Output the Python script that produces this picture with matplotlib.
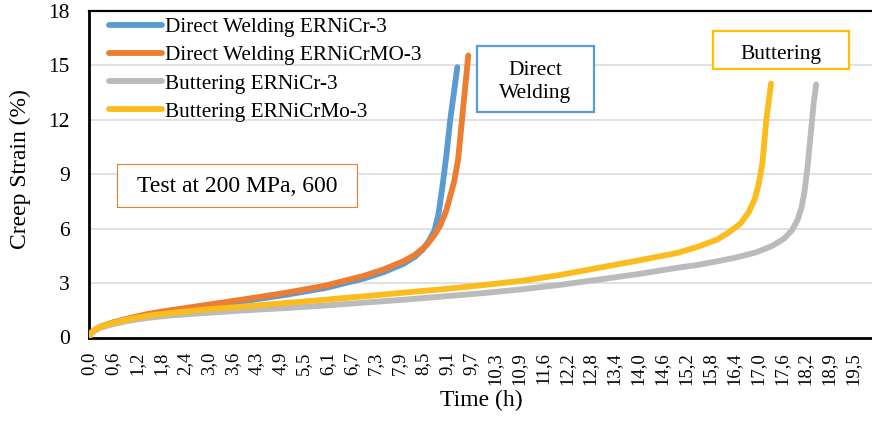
import numpy as np
import matplotlib
matplotlib.use("Agg")
import matplotlib.pyplot as plt
from matplotlib.patches import Rectangle

# ---- data -------------------------------------------------------------
dw_cr_t = [0, 0.05, 0.15, 0.3, 0.6, 1.0, 1.5, 2.0, 3.0, 4.0, 5.0, 6.0, 7.0,
           7.5, 8.0, 8.3, 8.5, 8.65, 8.8, 8.9, 9.0, 9.1, 9.2, 9.3, 9.38]
dw_cr_y = [0, 0.25, 0.42, 0.6, 0.82, 1.03, 1.25, 1.42, 1.72, 2.02, 2.35, 2.72,
           3.25, 3.6, 4.05, 4.45, 4.85, 5.3, 5.9, 6.8, 8.3, 10.0, 12.0, 13.6, 14.9]

dw_mo_t = [0, 0.05, 0.15, 0.3, 0.6, 1.0, 1.5, 2.0, 3.0, 4.0, 5.0, 6.0, 7.0,
           7.5, 8.0, 8.3, 8.6, 8.8, 8.95, 9.1, 9.2, 9.3, 9.4, 9.5, 9.58, 9.66]
dw_mo_y = [0, 0.25, 0.42, 0.6, 0.82, 1.05, 1.3, 1.48, 1.8, 2.12, 2.46, 2.85,
           3.4, 3.75, 4.2, 4.55, 5.1, 5.65, 6.2, 7.0, 7.8, 8.6, 9.8, 12.0, 13.8, 15.55]

bu_cr_t = [0, 0.05, 0.15, 0.3, 0.6, 1.0, 1.5, 2.0, 3.0, 4.0, 5.0, 6.0, 7.0, 8.0,
           9.0, 10.0, 11.0, 12.0, 13.0, 14.0, 15.0, 15.5, 16.0, 16.5, 17.0, 17.4,
           17.7, 17.9, 18.05, 18.15, 18.22, 18.3, 18.38, 18.46, 18.52]
bu_cr_y = [0, 0.22, 0.38, 0.55, 0.73, 0.92, 1.08, 1.2, 1.36, 1.5, 1.62, 1.76,
           1.92, 2.08, 2.26, 2.44, 2.65, 2.9, 3.2, 3.5, 3.85, 4.0, 4.2, 4.42, 4.7,
           5.05, 5.45, 5.9, 6.5, 7.2, 8.0, 9.4, 11.2, 13.0, 13.95]

bu_mo_t = [0, 0.05, 0.15, 0.3, 0.6, 1.0, 1.5, 2.0, 3.0, 4.0, 5.0, 6.0, 7.0, 8.0,
           9.0, 10.0, 11.0, 12.0, 12.5, 13.0, 14.0, 15.0, 15.5, 16.0, 16.3, 16.6,
           16.8, 16.95, 17.05, 17.15, 17.25, 17.37]
bu_mo_y = [0, 0.25, 0.42, 0.6, 0.8, 1.0, 1.2, 1.33, 1.55, 1.72, 1.9, 2.08, 2.27,
           2.47, 2.66, 2.88, 3.12, 3.45, 3.65, 3.85, 4.25, 4.67, 5.0, 5.4, 5.8,
           6.3, 6.9, 7.6, 8.4, 9.6, 12.0, 14.0]

series_names = ["Direct Welding ERNiCr-3", "Direct Welding ERNiCrMO-3",
                "Buttering ERNiCr-3", "Buttering ERNiCrMo-3"]
series_colors = ["#5B9BD5", "#ED7D31", "#BBBBBB", "#FBBD1E"]

x_tick_labels = ["0,0", "0,6", "1,2", "1,8", "2,4", "3,0", "3,6", "4,3", "4,9",
                 "5,5", "6,1", "6,7", "7,3", "7,9", "8,5", "9,1", "9,7", "10,3",
                 "10,9", "11,6", "12,2", "12,8", "13,4", "14,0", "14,6", "15,2",
                 "15,8", "16,4", "17,0", "17,6", "18,2", "18,9", "19,5"]
x_tick_step = 0.6082
y_ticks = [0, 3, 6, 9, 12, 15, 18]

# ---- figure -----------------------------------------------------------
W, H = 872, 424
plt.rcParams["font.family"] = ["Liberation Serif", "DejaVu Serif"]
fig = plt.figure(figsize=(W / 100, H / 100), dpi=100)


def fx(px):
    return px / W


def fy(py):
    return 1 - py / H


left, right, top, bottom = 89, 873.5, 11, 337.5
ax = fig.add_axes([fx(left), fy(bottom), fx(right - left), (bottom - top) / H])

data = [(dw_cr_t, dw_cr_y), (dw_mo_t, dw_mo_y), (bu_cr_t, bu_cr_y), (bu_mo_t, bu_mo_y)]
for (t, y), name, col in zip(data, series_names, series_colors):
    ax.plot(t, y, color=col, lw=4.2, solid_capstyle="round",
            solid_joinstyle="round", label=name, zorder=3)

ax.set_xlim(0, 19.98)
ax.set_ylim(0, 18)
ax.set_yticks(y_ticks)
ax.set_yticklabels([str(v) for v in y_ticks], fontsize=15.5)
ax.set_xticks(np.arange(len(x_tick_labels)) * x_tick_step)
ax.set_xticklabels(x_tick_labels, rotation=90, fontsize=13.5)
ax.tick_params(axis="both", length=0)
ax.tick_params(axis="x", pad=10.5)
ax.tick_params(axis="y", pad=14)

ax.grid(axis="y", color="#D9D9D9", lw=1.1, zorder=0)
ax.set_axisbelow(True)
for side in ["left", "bottom"]:
    ax.spines[side].set_linewidth(2.0)
ax.spines["top"].set_linewidth(1.6)
ax.spines["right"].set_visible(False)

ax.set_xlabel("Time (h)", fontsize=17)
ax.xaxis.set_label_coords(0.5, -0.16)
ax.set_ylabel("Creep Strain (%)", fontsize=17)
ax.yaxis.set_label_coords(-0.0735, 0.516)

leg = ax.legend(loc="upper left", bbox_to_anchor=(0.018, 1.0), frameon=False,
                fontsize=15.3, handlelength=2.45, handletextpad=0.15,
                labelspacing=0.39, borderaxespad=0.0, borderpad=0.3)
for line in leg.get_lines():
    line.set_linewidth(4.2)
    line.set_solid_capstyle("round")


def note_box(x0, y0, x1, y1, color, lw):
    fig.patches.append(Rectangle((fx(x0), fy(y1)), fx(x1 - x0), (y1 - y0) / H,
                                 transform=fig.transFigure, fill=True,
                                 facecolor="white", edgecolor=color, lw=lw,
                                 zorder=5))


note_box(117, 164, 357, 207, "#ED7D31", 0.8)
fig.text(fx(137), fy(187), "Test at 200 MPa, 600", fontsize=17,
         ha="left", va="center", zorder=6)

note_box(477, 46, 594, 112, "#5B9BD5", 1.6)
fig.text(fx(535.5), fy(82), "Direct\nWelding", fontsize=15.5, ha="center",
         va="center", linespacing=1.25, zorder=6)

note_box(713, 31, 849, 69, "#FFC000", 1.6)
fig.text(fx(781), fy(54), "Buttering", fontsize=15.5, ha="center",
         va="center", zorder=6)

fig.savefig("out.png", dpi=100)
